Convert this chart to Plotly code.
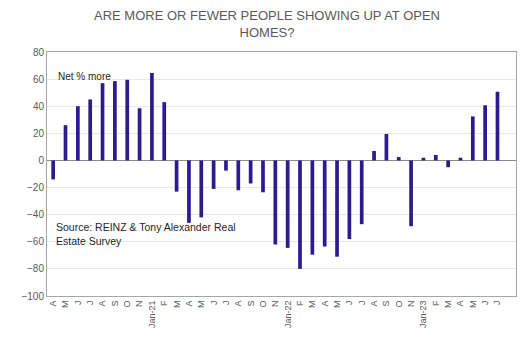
import plotly.graph_objects as go

months = ["Apr-20", "May-20", "Jun-20", "Jul-20", "Aug-20", "Sep-20", "Oct-20", "Nov-20",
          "Jan-21", "Feb-21", "Mar-21", "Apr-21", "May-21", "Jun-21", "Jul-21", "Aug-21", "Sep-21", "Oct-21", "Nov-21",
          "Jan-22", "Feb-22", "Mar-22", "Apr-22", "May-22", "Jun-22", "Jul-22", "Aug-22", "Sep-22", "Oct-22", "Nov-22",
          "Jan-23", "Feb-23", "Mar-23", "Apr-23", "May-23", "Jun-23", "Jul-23"]
tick_labels = ["A", "M", "J", "J", "A", "S", "O", "N",
               "Jan-21", "F", "M", "A", "M", "J", "J", "A", "S", "O", "N",
               "Jan-22", "F", "M", "A", "M", "J", "J", "A", "S", "O", "N",
               "Jan-23", "F", "M", "A", "M", "J", "J"]
net_more = [-14, 26, 40, 45, 57, 58.5, 59.5, 38.5,
            64.5, 43, -23, -46, -42, -21, -7.5, -22, -17, -23.5, -62,
            -64.5, -80, -69.5, -63.5, -71, -58, -47, 7, 19.5, 2.5, -48.5,
            2, 4, -5, 2, 32.5, 40.7, 50.7]

x_idx = list(range(len(months)))

fig = go.Figure()
fig.add_trace(go.Bar(
    x=x_idx, y=net_more, width=0.3,
    marker=dict(color="#2d1a8e", line=dict(width=0)),
    hovertext=months, showlegend=False,
))

font_family = "Liberation Sans, Arial, sans-serif"
axis_font = dict(family=font_family, size=10, color="#595959")

fig.update_layout(
    width=527, height=351,
    margin=dict(l=47, r=11, t=52, b=55),
    paper_bgcolor="white", plot_bgcolor="white",
    xaxis=dict(
        tickmode="array", tickvals=x_idx, ticktext=tick_labels, tickangle=-90,
        range=[-0.5, len(months) + 0.5], showgrid=False, zeroline=False,
        showline=True, linecolor="#a6a6a6", linewidth=1, mirror=True,
        ticks="", tickfont=dict(family=font_family, size=9, color="#595959"),
    ),
    yaxis=dict(
        range=[-100, 80], tickvals=list(range(-100, 81, 20)),
        showgrid=True, gridcolor="#e8e8e8", gridwidth=1,
        zeroline=True, zerolinecolor="#8c8c8c", zerolinewidth=1,
        showline=True, linecolor="#a6a6a6", linewidth=1, mirror=True,
        ticks="", tickfont=axis_font,
    ),
    annotations=[
        dict(text="ARE MORE OR FEWER PEOPLE SHOWING UP AT OPEN<br>HOMES?",
             xref="paper", yref="paper", x=0.469, y=1, xanchor="center", yanchor="bottom",
             yshift=10, showarrow=False, align="center",
             font=dict(family=font_family, size=13, color="#595959")),
        dict(text="Net % more", xref="paper", yref="paper", x=0.02, y=0.9,
             xanchor="left", yanchor="middle", showarrow=False,
             font=dict(family=font_family, size=10, color="#262626")),
        dict(text="Source: REINZ & Tony Alexander Real<br>Estate Survey", xref="paper", yref="paper",
             x=0.015, y=0.255, xanchor="left", yanchor="middle", showarrow=False, align="left",
             font=dict(family=font_family, size=10.5, color="#262626")),
    ],
)

fig.write_html("out.html")
